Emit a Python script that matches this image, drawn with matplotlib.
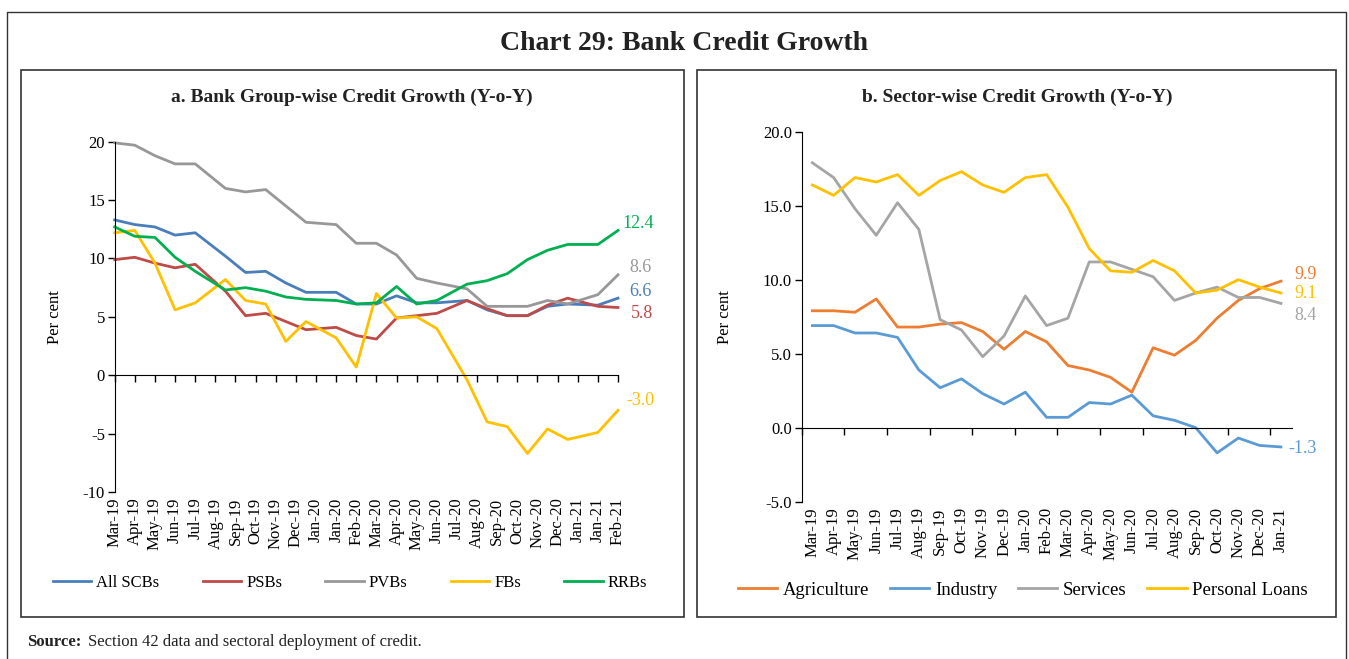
import numpy as np
import matplotlib
matplotlib.use("Agg")
import matplotlib.pyplot as plt
from matplotlib.patches import Rectangle
from matplotlib.lines import Line2D

plt.rcParams["font.family"] = ["Liberation Serif", "DejaVu Serif"]
plt.rcParams["axes.unicode_minus"] = False

# ---------------- Panel a: bank group-wise credit growth (fortnightly dates) ----------------
dates_a = ["2019-03-29", "2019-04-26", "2019-05-24", "2019-06-21", "2019-07-19",
           "2019-08-30", "2019-09-27", "2019-10-25", "2019-11-22", "2019-12-20",
           "2020-01-31", "2020-02-28", "2020-03-27", "2020-04-24", "2020-05-22",
           "2020-06-19", "2020-07-31", "2020-08-28", "2020-09-25", "2020-10-23",
           "2020-11-20", "2020-12-18", "2021-01-29", "2021-02-26"]

all_scbs = [13.3, 12.9, 12.7, 12.0, 12.2, 10.2, 8.8, 8.9, 7.9, 7.1, 7.1, 6.1,
            6.1, 6.8, 6.2, 6.2, 6.4, 5.6, 5.1, 5.1, 5.9, 6.1, 6.0, 6.6]
psbs = [9.9, 10.1, 9.6, 9.2, 9.5, 7.2, 5.1, 5.3, 4.6, 3.9, 4.1, 3.4,
        3.1, 4.9, 5.1, 5.3, 6.4, 5.7, 5.1, 5.1, 6.0, 6.6, 5.9, 5.8]
pvbs = [19.9, 19.7, 18.8, 18.1, 18.1, 16.0, 15.7, 15.9, 14.5, 13.1, 12.9, 11.3,
        11.3, 10.3, 8.3, 7.9, 7.4, 5.9, 5.9, 5.9, 6.4, 6.1, 6.9, 8.6]
fbs = [12.2, 12.4, 9.6, 5.6, 6.2, 8.2, 6.4, 6.1, 2.9, 4.6, 3.2, 0.7,
       7.0, 4.9, 5.0, 4.0, -0.4, -4.0, -4.4, -6.7, -4.6, -5.5, -4.9, -3.0]
rrbs = [12.7, 11.9, 11.8, 10.1, 8.9, 7.3, 7.5, 7.2, 6.7, 6.5, 6.4, 6.1,
        6.2, 7.6, 6.1, 6.4, 7.8, 8.1, 8.7, 9.9, 10.7, 11.2, 11.2, 12.4]

ticks_a = ["Mar-19", "Apr-19", "May-19", "Jun-19", "Jul-19", "Aug-19", "Sep-19",
           "Oct-19", "Nov-19", "Dec-19", "Jan-20", "Jan-20", "Feb-20", "Mar-20",
           "Apr-20", "May-20", "Jun-20", "Jul-20", "Aug-20", "Sep-20", "Oct-20",
           "Nov-20", "Dec-20", "Jan-21", "Jan-21", "Feb-21"]

# ---------------- Panel b: sector-wise credit growth (monthly) ----------------
months_b = ["Mar-19", "Apr-19", "May-19", "Jun-19", "Jul-19", "Aug-19", "Sep-19",
            "Oct-19", "Nov-19", "Dec-19", "Jan-20", "Feb-20", "Mar-20", "Apr-20",
            "May-20", "Jun-20", "Jul-20", "Aug-20", "Sep-20", "Oct-20", "Nov-20",
            "Dec-20", "Jan-21"]
agriculture = [7.9, 7.9, 7.8, 8.7, 6.8, 6.8, 7.0, 7.1, 6.5, 5.3, 6.5, 5.8,
               4.2, 3.9, 3.4, 2.4, 5.4, 4.9, 5.9, 7.4, 8.6, 9.4, 9.9]
industry = [6.9, 6.9, 6.4, 6.4, 6.1, 3.9, 2.7, 3.3, 2.3, 1.6, 2.4, 0.7,
            0.7, 1.7, 1.6, 2.2, 0.8, 0.5, 0.0, -1.7, -0.7, -1.2, -1.3]
services = [17.9, 16.9, 14.8, 13.0, 15.2, 13.4, 7.3, 6.6, 4.8, 6.2, 8.9, 6.9,
            7.4, 11.2, 11.2, 10.7, 10.2, 8.6, 9.1, 9.5, 8.8, 8.8, 8.4]
personal_loans = [16.4, 15.7, 16.9, 16.6, 17.1, 15.7, 16.7, 17.3, 16.4, 15.9,
                  16.9, 17.1, 14.9, 12.1, 10.6, 10.5, 11.3, 10.6, 9.1, 9.3,
                  10.0, 9.5, 9.1]

W, H = 1349, 659
fig = plt.figure(figsize=(W / 100, H / 100), dpi=100)


def fx(x):
    return x / W


def fy(y):
    return 1 - y / H


# frames
fig.add_artist(Line2D([fx(7), fx(7), fx(1346), fx(1346)], [0, fy(12), fy(12), 0],
                      transform=fig.transFigure, color="#333333", lw=1.0))
for x0, x1 in [(21, 684), (697, 1336)]:
    fig.add_artist(Rectangle((fx(x0), fy(617)), fx(x1) - fx(x0), fy(70) - fy(617),
                             transform=fig.transFigure, fill=False,
                             edgecolor="#333333", lw=1.2))

fig.text(fx(684), fy(44), "Chart 29: Bank Credit Growth", ha="center", va="center",
         fontsize=20, fontweight="bold", color="#222222")
fig.text(fx(352), fy(97), "a. Bank Group-wise Credit Growth (Y-o-Y)", ha="center",
         va="center", fontsize=14, fontweight="bold", color="#222222")
fig.text(fx(1017), fy(97), "b. Sector-wise Credit Growth (Y-o-Y)", ha="center",
         va="center", fontsize=14, fontweight="bold", color="#222222")
fig.text(fx(27), fy(642), "Source:", ha="left", va="center", fontsize=12,
         fontweight="bold", color="#222222")
fig.text(fx(88), fy(642), "Section 42 data and sectoral deployment of credit.",
         ha="left", va="center", fontsize=12, color="#222222")

FS = 12

# ---------------- Panel a axes ----------------
start = np.datetime64("2019-03-29")
xa = (np.array(dates_a, dtype="datetime64[D]") - start).astype(int)
tick_pos_a = np.arange(len(ticks_a)) * 28

ax1 = fig.add_axes([fx(114.7), fy(492), fx(618) - fx(114.7), fy(141.7) - fy(492)])
ax1.patch.set_alpha(0)
series_a = [("All SCBs", all_scbs, "#4A7EBB"), ("PSBs", psbs, "#BE4B48"),
            ("PVBs", pvbs, "#989898"), ("FBs", fbs, "#FFC000"),
            ("RRBs", rrbs, "#00B050")]
for name, vals, col in series_a:
    ax1.plot(xa, vals, color=col, lw=2.0, label=name, clip_on=False)
ax1.set_xlim(0, tick_pos_a[-1])
ax1.set_ylim(-10, 20)
ax1.set_yticks(np.arange(-10, 21, 5))
ax1.spines[["top", "right"]].set_visible(False)
ax1.spines["bottom"].set_position(("data", 0))
ax1.set_xticks(tick_pos_a)
ax1.tick_params(axis="x", labelbottom=False, direction="out", length=5, width=1)
ax1.tick_params(axis="y", direction="out", length=5, width=1, labelsize=FS, pad=2)
sec1 = ax1.secondary_xaxis("bottom")
sec1.set_xticks(tick_pos_a, labels=ticks_a, rotation=90, fontsize=FS)
sec1.tick_params(length=0, pad=4)
sec1.spines["bottom"].set_visible(False)
ax1.set_ylabel("Per cent", fontsize=FS)
ax1.yaxis.set_label_coords(-0.103, 0.5)

end_a = [(rrbs, "#00B050", 3, 5), (pvbs, "#989898", 8, 5), (all_scbs, "#4A7EBB", 8, 5),
         (psbs, "#BE4B48", 9, -4.5), (fbs, "#FFC000", 6, 7)]
for vals, col, dx, dy in end_a:
    ax1.annotate(f"{vals[-1]:.1f}", (xa[-1], vals[-1]), xytext=(dx, dy),
                 textcoords="offset points", ha="left", va="center",
                 fontsize=13, color=col, annotation_clip=False)

fig.legend(handles=ax1.get_lines(), loc="center", bbox_to_anchor=(fx(350), fy(583)),
           ncol=5, frameon=False, fontsize=FS, handlelength=2.3, handletextpad=0.3,
           columnspacing=2.6)

# ---------------- Panel b axes ----------------
xb = np.arange(len(months_b))
ax2 = fig.add_axes([fx(801.7), fy(501.7), fx(1291.6) - fx(801.7), fy(131.7) - fy(501.7)])
ax2.patch.set_alpha(0)
series_b = [("Agriculture", agriculture, "#ED7D31"), ("Industry", industry, "#5B9BD5"),
            ("Services", services, "#A5A5A5"), ("Personal Loans", personal_loans, "#FFC000")]
for name, vals, col in series_b:
    ax2.plot(xb, vals, color=col, lw=2.0, label=name)
ax2.set_xlim(-0.5, len(months_b) - 0.5)
ax2.set_ylim(-5, 20)
ax2.set_yticks(np.arange(-5, 21, 5))
ax2.set_yticklabels([f"{v:.1f}" for v in np.arange(-5, 21, 5)])
ax2.spines[["top", "right"]].set_visible(False)
ax2.spines["bottom"].set_position(("data", 0))
ax2.set_xticks(np.arange(-0.5, len(months_b) - 1, 2))
ax2.tick_params(axis="x", labelbottom=False, direction="out", length=5, width=1)
ax2.tick_params(axis="y", direction="out", length=5, width=1, labelsize=FS, pad=2)
sec2 = ax2.secondary_xaxis("bottom")
sec2.set_xticks(xb, labels=months_b, rotation=90, fontsize=FS)
sec2.tick_params(length=0, pad=4)
sec2.spines["bottom"].set_visible(False)
ax2.set_ylabel("Per cent", fontsize=FS)
ax2.yaxis.set_label_coords(-0.140, 0.5)

end_b = [(agriculture, "#ED7D31", 10, 5), (personal_loans, "#FFC000", 10, 0),
         (services, "#A5A5A5", 10, -8.5), (industry, "#5B9BD5", 5, -1)]
for vals, col, dx, dy in end_b:
    ax2.annotate(f"{vals[-1]:.1f}", (xb[-1], vals[-1]), xytext=(dx, dy),
                 textcoords="offset points", ha="left", va="center",
                 fontsize=13, color=col, annotation_clip=False)

fig.legend(handles=ax2.get_lines(), loc="center", bbox_to_anchor=(fx(1023), fy(590)),
           ncol=4, frameon=False, fontsize=13.5, handlelength=2.1, handletextpad=0.3,
           columnspacing=1.1)

fig.savefig("out.png", dpi=100)
